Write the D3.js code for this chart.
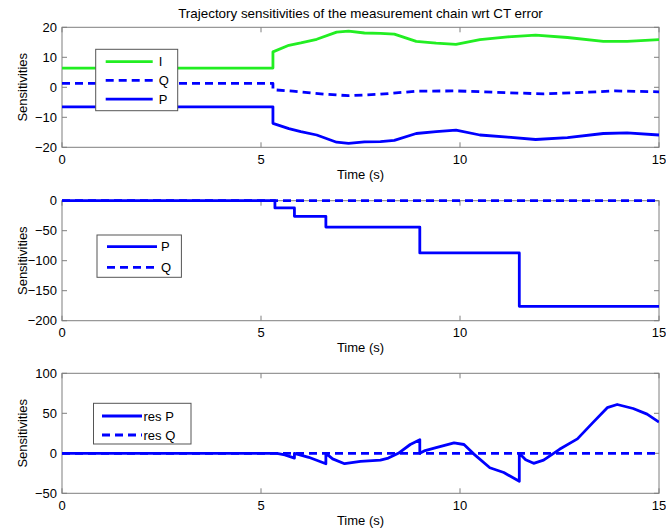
<!DOCTYPE html>
<html>
<head>
<meta charset="utf-8">
<script src="https://cdn.jsdelivr.net/npm/d3@7"></script>
<style>
  body { margin: 0; background: #fff; }
  svg { display: block; font-family: "Liberation Sans", Arial, sans-serif; }
</style>
</head>
<body>
<svg id="chart" width="666" height="529"></svg>
<script>
// ---- data ----
var timeTicks = [0, 5, 10, 15];

// panel 1: I, Q, P
var iTime = [0, 5.3, 5.3, 5.7, 6.0, 6.4, 6.9, 7.2, 7.6, 8.0, 8.35, 8.9, 9.4, 9.9, 10.5, 11.2, 11.9, 12.7, 13.6, 14.2, 15];
var iVals = [6.4, 6.4, 11.8, 14.0, 14.8, 16.0, 18.4, 18.7, 18.1, 18.0, 17.7, 15.3, 14.7, 14.3, 15.9, 16.8, 17.4, 16.6, 15.3, 15.3, 15.9];
var pVals = [-6.5, -6.5, -12.0, -13.8, -14.8, -15.9, -18.3, -18.7, -18.2, -18.1, -17.7, -15.4, -14.8, -14.3, -15.9, -16.6, -17.4, -16.8, -15.4, -15.2, -15.9];
var qTime = [0, 5.3, 5.3, 5.8, 6.6, 7.2, 8.0, 8.9, 9.9, 11.2, 12.1, 13.1, 13.9, 15];
var qVals = [1.3, 1.3, -0.8, -1.3, -2.3, -2.8, -2.3, -1.3, -1.2, -1.8, -2.2, -1.7, -1.2, -1.5];
var yTicks1 = [-20, -10, 0, 10, 20];

// panel 2: P (steps), Q
var stepTime = [0, 5.35, 5.84, 6.63, 8.99, 11.49, 15];
var stepP = [0, -12, -26, -44, -87, -176, -176];
var flatTime = [0, 15];
var flatQ = [0, 0];
var yTicks2 = [-200, -150, -100, -50, 0];

// panel 3: res P, res Q
var resTime = [0, 5.4, 5.6, 5.84, 5.84, 6.2, 6.63, 6.63, 6.8, 7.1, 7.5, 8.0, 8.2, 8.45, 8.75, 8.99, 8.99, 9.1, 9.4, 9.85, 10.1, 10.35, 10.75, 11.1, 11.49, 11.49, 11.65, 11.85, 12.1, 12.5, 12.95, 13.35, 13.7, 13.95, 14.35, 14.7, 15];
var resP = [0, 0, -2, -6, 0, -5, -13, 0, -7, -13, -10, -8.5, -6, 0, 11, 17, 0, 3, 7, 13, 11, -1, -18, -24, -35, 0, -8, -12.5, -8.5, 5, 18, 39, 57, 61, 56, 49, 39];
var resQ = [0, 0];
var yTicks3 = [-50, 0, 50, 100];

var titleText = "Trajectory sensitivities of the measurement chain wrt CT error";

// ---- layout ----
var left = 62, right = 659, panelH = 120;
var svg = d3.select("#chart");
var blue = "#0000ff", green = "#22ee22";

var x = d3.scaleLinear().domain([0, 15]).range([left, right]);

function zip(ts, vs) {
    return ts.map(function (t, i) { return [t, vs[i]]; });
}

function drawPanel(top, yDomain, yTicks, series, legend) {
    var bottom = top + panelH;
    var y = d3.scaleLinear().domain(yDomain).range([bottom, top]);
    var g = svg.append("g");

    // clip
    var id = "clip" + Math.round(top);
    g.append("clipPath").attr("id", id)
        .append("rect").attr("x", left).attr("y", top - 2)
        .attr("width", right - left).attr("height", panelH + 4);

    // axes box + inner ticks
    var axis = g.append("g").attr("stroke", "#7f7f7f").attr("stroke-width", 1).attr("fill", "none");
    axis.append("rect").attr("x", left).attr("y", top).attr("width", right - left).attr("height", panelH);
    timeTicks.forEach(function (t) {
        axis.append("line").attr("x1", x(t)).attr("x2", x(t)).attr("y1", bottom).attr("y2", bottom - 5);
        axis.append("line").attr("x1", x(t)).attr("x2", x(t)).attr("y1", top).attr("y2", top + 5);
    });
    yTicks.forEach(function (v) {
        axis.append("line").attr("x1", left).attr("x2", left + 5).attr("y1", y(v)).attr("y2", y(v));
        axis.append("line").attr("x1", right).attr("x2", right - 5).attr("y1", y(v)).attr("y2", y(v));
    });

    // tick labels
    var lab = g.append("g").attr("font-size", 13).attr("fill", "#000");
    timeTicks.forEach(function (t) {
        lab.append("text").attr("x", x(t)).attr("y", bottom + 12).attr("dy", "0.35em")
            .attr("text-anchor", "middle").text(t);
    });
    yTicks.forEach(function (v) {
        lab.append("text").attr("x", left - 5).attr("y", y(v)).attr("dy", "0.35em")
            .attr("text-anchor", "end").text(String(v).replace("-", "\u2212"));
    });
    lab.append("text").attr("x", (left + right) / 2).attr("y", bottom + 27).attr("dy", "0.35em")
        .attr("text-anchor", "middle").text("Time (s)");
    lab.append("text").attr("transform", "translate(22," + (top + panelH / 2) + ") rotate(-90)")
        .attr("dy", "0.35em").attr("text-anchor", "middle").text("Sensitivities");

    // series
    var lines = g.append("g").attr("clip-path", "url(#" + id + ")");
    series.forEach(function (s) {
        var line = d3.line()
            .x(function (d) { return x(d[0]); })
            .y(function (d) { return y(d[1]); })
            .curve(s.curve || d3.curveLinear);
        lines.append("path").datum(s.data)
            .attr("d", line)
            .attr("fill", "none")
            .attr("stroke", s.color)
            .attr("stroke-width", 2.8)
            .attr("stroke-linejoin", "round")
            .attr("stroke-dasharray", s.dash ? "8,5" : null);
    });

    // legend
    var lg = g.append("g").attr("transform", "translate(" + legend.x + "," + (top + legend.y) + ")");
    lg.append("rect").attr("width", legend.w).attr("height", legend.h)
        .attr("fill", "#fff").attr("stroke", "#555").attr("stroke-width", 1);
    legend.items.forEach(function (it, i) {
        var yy = legend.first + i * legend.step;
        lg.append("line").attr("x1", legend.l1).attr("x2", legend.l2).attr("y1", yy).attr("y2", yy)
            .attr("stroke", it.color).attr("stroke-width", 2.8)
            .attr("stroke-dasharray", it.dash ? "8,5" : null);
        lg.append("text").attr("x", legend.tx).attr("y", yy).attr("dy", "0.35em")
            .attr("font-size", 13).text(it.name);
    });
}

svg.append("text").attr("x", (left + right) / 2).attr("y", 13).attr("dy", "0.35em")
    .attr("text-anchor", "middle").attr("font-size", 13.4).text(titleText);

drawPanel(27.3, [-20, 20], yTicks1, [
    { data: zip(iTime, iVals), color: green },
    { data: zip(qTime, qVals), color: blue, dash: true },
    { data: zip(iTime, pVals), color: blue }
], {
    x: 95.7, y: 22, w: 82, h: 61.4, first: 12.4, step: 18.7, l1: 10, l2: 57, tx: 63,
    items: [{ name: "I", color: green }, { name: "Q", color: blue, dash: true }, { name: "P", color: blue }]
});

drawPanel(200.7, [-200, 0], yTicks2, [
    { data: zip(stepTime, stepP), color: blue, curve: d3.curveStepAfter },
    { data: zip(flatTime, flatQ), color: blue, dash: true }
], {
    x: 97, y: 34.3, w: 84.4, h: 42.3, first: 11.7, step: 20.6, l1: 10, l2: 60, tx: 64,
    items: [{ name: "P", color: blue }, { name: "Q", color: blue, dash: true }]
});

drawPanel(373.3, [-50, 100], yTicks3, [
    { data: zip(resTime, resP), color: blue },
    { data: zip(flatTime, resQ), color: blue, dash: true }
], {
    x: 93.5, y: 30, w: 97.5, h: 40.7, first: 12.7, step: 19, l1: 8.5, l2: 48.5, tx: 50,
    items: [{ name: "res P", color: blue }, { name: "res Q", color: blue, dash: true }]
});
</script>
</body>
</html>
